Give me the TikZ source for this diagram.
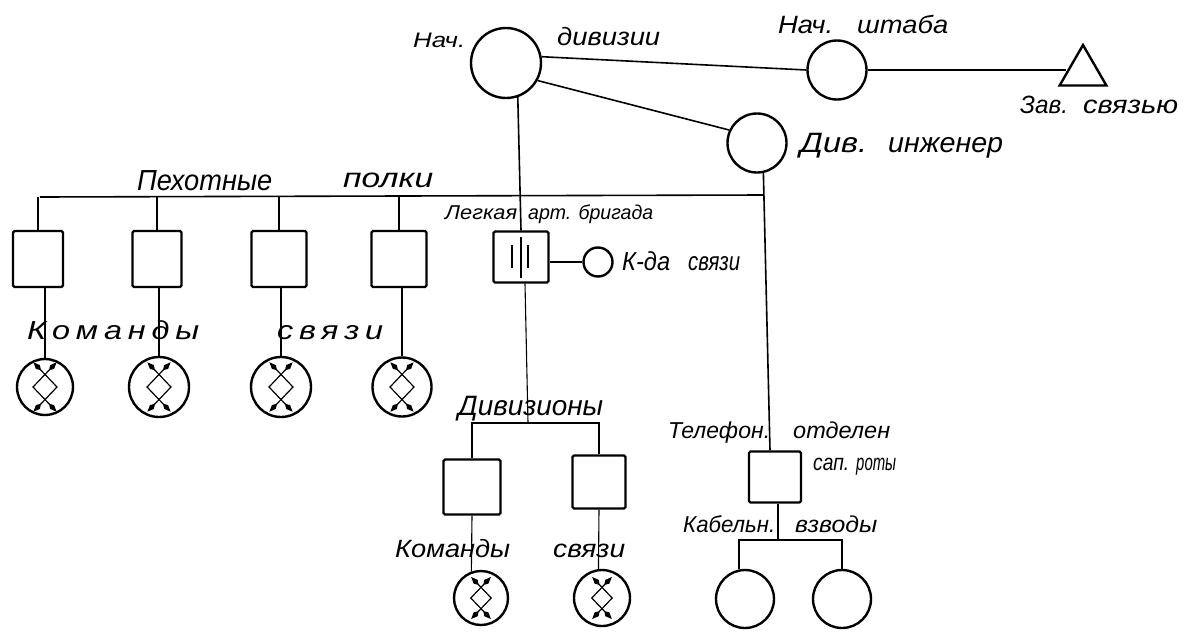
\documentclass[tikz,border=0pt]{standalone}
\usepackage{fontspec}
\usepackage{graphicx}
\usetikzlibrary{shapes.geometric,arrows.meta}
\newfontfamily\hand{Liberation Sans}
\newcommand\lb[3]{{\hand\itshape\fontsize{#1}{#1}\selectfont\resizebox{#2pt}{\height}{#3}}}
\newcommand\lbs[3]{{\hand\itshape\fontsize{#1}{#1}\selectfont\addfontfeature{LetterSpace=18}\resizebox{#2pt}{\height}{#3}}}
\tikzset{
  sq/.style={draw, line width=2.4pt, rounded corners=1.5pt, inner sep=0pt},
  circ/.style={draw, circle, line width=2.4pt, inner sep=0pt, minimum size=#1},
  conn/.style={line width=1.6pt},
  thinl/.style={line width=1.1pt},
  lbl/.style={inner sep=0pt, anchor=base west},
  kt/.tip={Kite[length=11pt,width=5.5pt,inset=4.5pt]},
  xsym/.pic={
    \draw[line width=1.2pt, kt-kt] (11.6,-24.7) -- (-12,0) -- (11.6,24.7);
    \draw[line width=1.2pt, kt-kt] (-11.6,-24.7) -- (12,0) -- (-11.6,24.7);
  }
}
\begin{document}
\begin{tikzpicture}[x=1pt,y=-1pt]
\useasboundingbox[fill=white] (0,0) rectangle (1197,632);

% top level
\node[circ=70] (nd) at (506,63) {};
\node[circ=59] (ns) at (837,70) {};
\node[draw, regular polygon, regular polygon sides=3, minimum size=54, inner sep=0pt, line width=2.4pt] (tri) at (1083,72) {};
\node[circ=59] (ne) at (757,143) {};

\draw[conn] (nd.10) -- (ns.west);
\draw[conn] (ns.east) -- (tri.west |- ns.east);
\draw[conn] (nd.-29) -- (ne.155);

% infantry regiments
\coordinate (hL) at (40,197);
\coordinate (hR) at (764,195);
\draw[conn] (hL) -- (hR);
\node[sq, minimum width=50, minimum height=56] (p1) at (38,259) {};
\node[sq, minimum width=49, minimum height=56] (p2) at (157,259) {};
\node[sq, minimum width=55, minimum height=56] (p3) at (279,259) {};
\node[sq, minimum width=55, minimum height=56] (p4) at (399,259) {};
\foreach \i in {1,...,4} {\draw[thinl] (p\i.north) -- (p\i.north |- hL);}

\node[circ=56] (c1) at (45,387) {};
\node[circ=60] (c2) at (159,387) {};
\node[circ=60] (c3) at (281,387) {};
\node[circ=59] (c4) at (402,387) {};
\foreach \i in {1,...,4} {\draw[thinl] (c\i.north) -- (c\i.north |- p\i.south); \pic at (c\i) {xsym};}

% artillery brigade
\node[sq, minimum width=55, minimum height=51] (art) at (521,257) {};
\draw[line width=1.2pt] ([shift={(-9,-12)}]art.center) -- ++(0,23);
\draw[line width=1.2pt] ([shift={(7,-12)}]art.center) -- ++(0,23);
\draw[line width=2.8pt] ([shift={(0,-20)}]art.center) -- ++(0,41);
\draw[conn] (nd.-71) -- (art.north);
\node[circ=29] (kd) at (598,262) {};
\draw[conn] (art.east |- kd.west) -- (kd.west);

% divizions
\coordinate (dv) at (528,423);
\draw[thinl] ([xshift=4pt]art.south) -- (dv);
\node[sq, minimum width=57, minimum height=55] (dL) at (472,487) {};
\node[sq, minimum width=53, minimum height=53] (dR) at (599,482) {};
\draw[thinl] (dL.north) |- (dv) -| (dR.north);
\node[circ=54] (l1) at (481,598) {};
\node[circ=56] (l2) at (602,598) {};
\draw[thinl] (dL.south) -- (l1.110);
\draw[thinl] (dR.south) -- (l2.97);
\pic[scale=0.85] at (l1) {xsym};
\pic[scale=0.85] at (l2) {xsym};

% telephone section
\node[sq, minimum width=52, minimum height=51] (tel) at (775,477) {};
\draw[conn] (ne.-78) -- ([xshift=-5pt]tel.north);
\coordinate (kv) at (778,540);
\draw[thinl] ([xshift=3pt]tel.south) -- (kv);
\node[circ=58] (k1) at (745,599) {};
\node[circ=58] (k2) at (842,599) {};
\draw[thinl] ([xshift=-6pt]k1.north) |- (kv) -| (k2.north);

% labels
\node[lbl] (t1) at (413,47) {\lb{21}{52}{Нач.}};
\node[lbl] (t2) at (557,45) {\lb{25}{103}{дивизии}};
\node[lbl] (t3) at (778,33) {\lb{25}{55}{Нач.}};
\node[lbl] (t4) at (857,33) {\lb{25}{91}{штаба}};
\node[lbl] (t5) at (1020,113) {\lb{25}{48}{Зав.}};
\node[lbl] (t6) at (1083,113) {\lb{25}{95}{связью}};
\node[lbl] (t7) at (800,152) {\lb{28}{67}{Див.}};
\node[lbl] (t8) at (888,152) {\lb{28}{115}{инженер}};
\node[lbl] (t9) at (137,190) {\lb{29}{135}{Пехотные}};
\node[lbl] (t10) at (343,187) {\lb{27}{90}{полки}};
\node[lbl] (t11) at (27,339) {\lbs{26}{172}{Команды}};
\node[lbl] (t12) at (277,339) {\lbs{26}{106}{связи}};
\node[lbl] (t13) at (445,219) {\lb{20}{72}{Легкая}};
\node[lbl] (t14) at (528,219) {\lb{20}{125}{арт. бригада}};
\node[lbl] (t15) at (622,270) {\lb{26}{48}{К-да}};
\node[lbl] (t16) at (688,270) {\lb{26}{52}{связи}};
\node[lbl] (t17) at (458,415) {\lb{28}{145}{Дивизионы}};
\node[lbl] (t18) at (668,438) {\lb{23}{102}{Телефон.}};
\node[lbl] (t19) at (793,438) {\lb{23}{97}{отделен}};
\node[lbl] (t20) at (813,470) {\lb{23}{36}{сап.}};
\node[lbl] (t21) at (856,470) {\lb{23}{40}{роты}};
\node[lbl] (t22) at (683,532) {\lb{23}{92}{Кабельн.}};
\node[lbl] (t23) at (795,532) {\lb{23}{82}{взводы}};
\node[lbl] (t24) at (395,557) {\lb{25}{115}{Команды}};
\node[lbl] (t25) at (553,557) {\lb{25}{72}{связи}};
\end{tikzpicture}
\end{document}
